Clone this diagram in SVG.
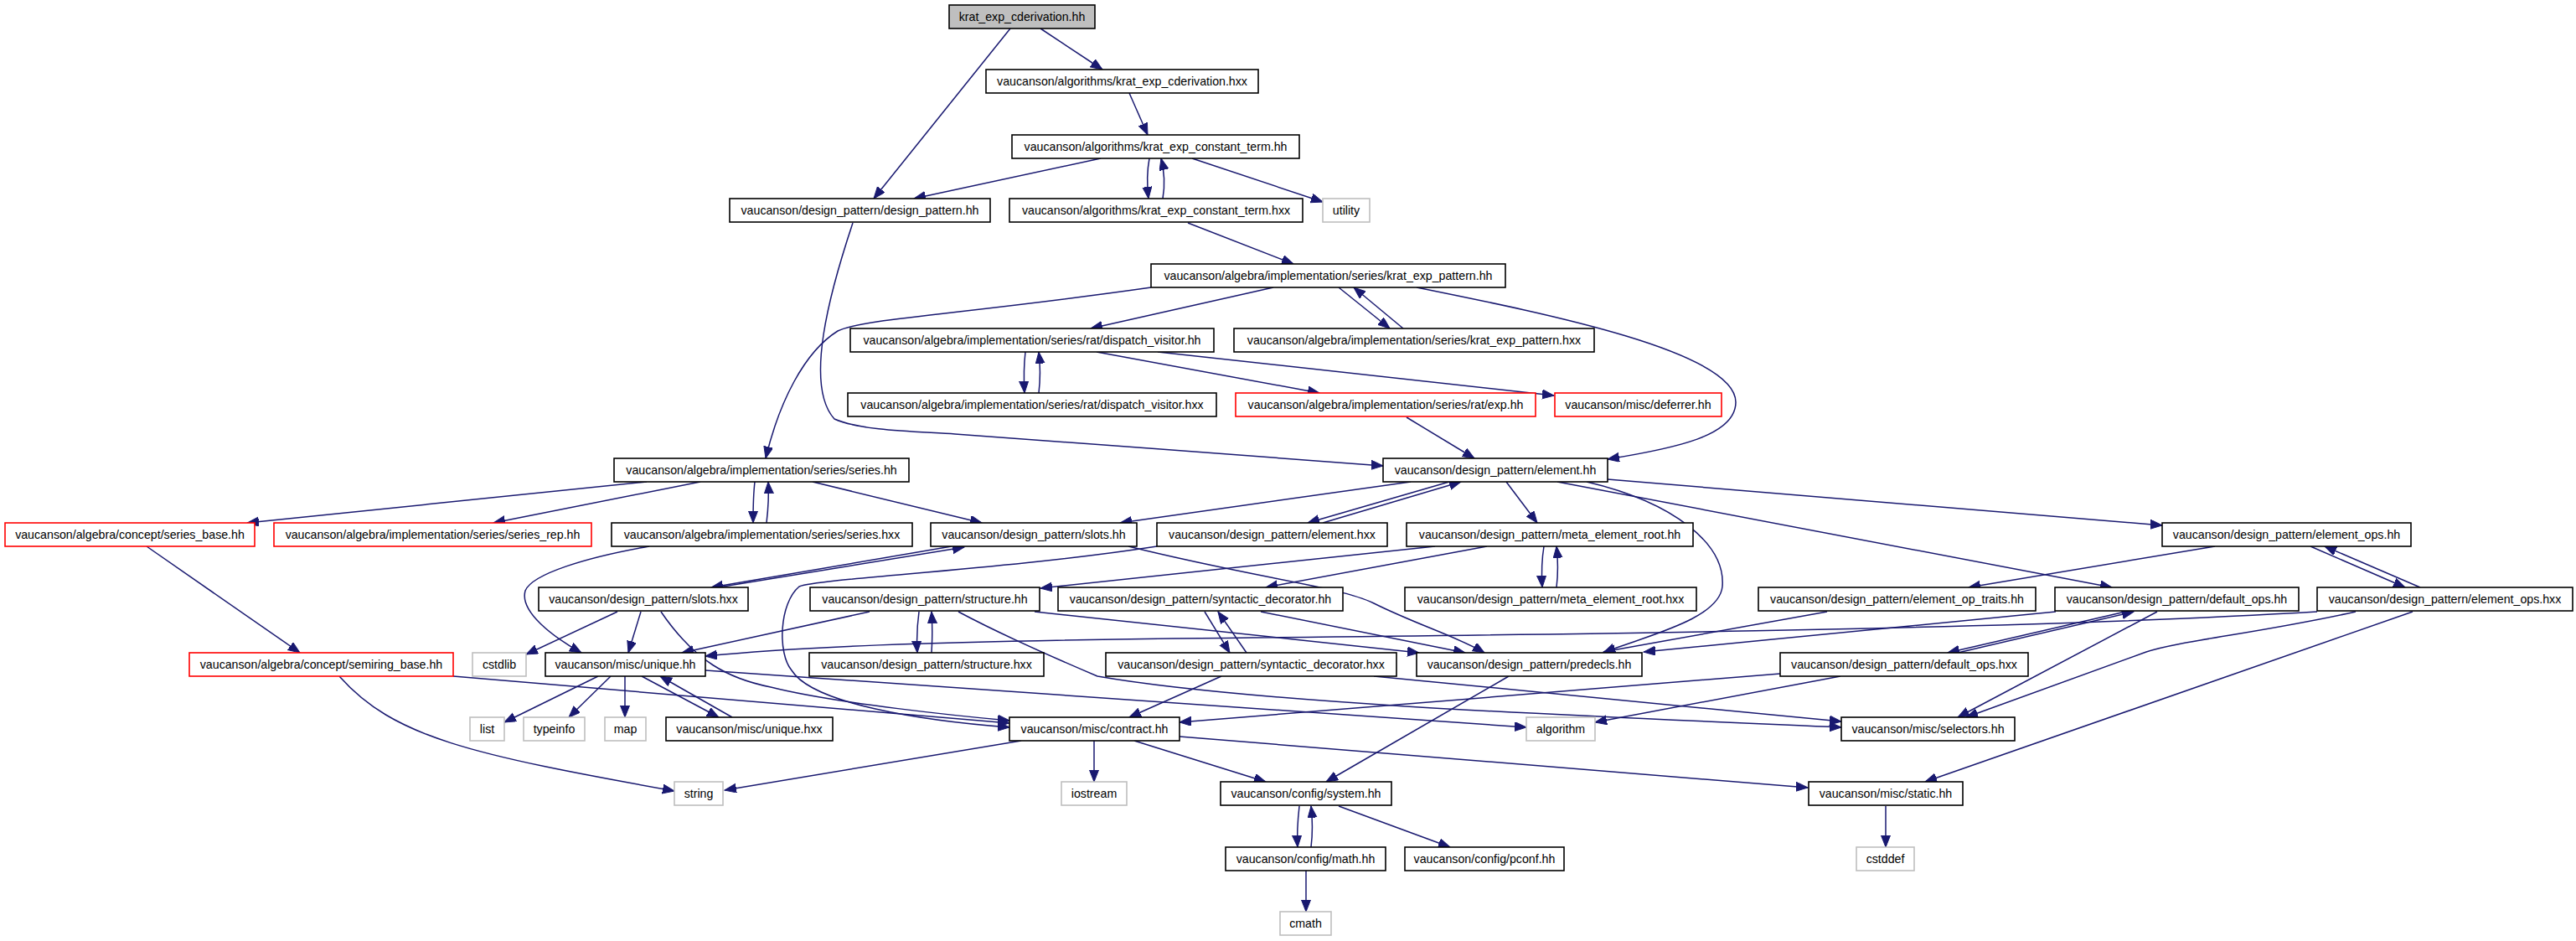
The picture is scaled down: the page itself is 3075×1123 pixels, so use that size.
<svg xmlns="http://www.w3.org/2000/svg" width="3075" height="1123" viewBox="0 0 3075 1123">
<style>
.node rect{fill:#fff;stroke:#000;stroke-width:1.6}
.red rect{stroke:#ff0000}
.gray rect{stroke:#bfbfbf}
.root rect{fill:#bfbfbf}
text{font-family:"Liberation Sans",Arial,sans-serif;font-size:14.2px;text-anchor:middle;fill:#000}
.edges path{fill:none;stroke:#191970;stroke-width:1.5;marker-end:url(#arr)}
</style>
<defs>
<marker id="arr" markerUnits="userSpaceOnUse" markerWidth="16" markerHeight="13" refX="14" refY="5.5" orient="auto"><path d="M0,0 L14,5.5 L0,11 z" fill="#191970" stroke="#191970" stroke-width="1"/></marker>
</defs>
<rect width="3075" height="1123" fill="#fff"/>
<g class="edges" id="edges">
<path d="M1242,34 L1316,83"/>
<path d="M1206,34 L1043,237"/>
<path d="M1348,111 L1370,161"/>
<path d="M1314,189 L1091,237"/>
<path d="M1372,189 C1369,205 1369,220 1371,237"/>
<path d="M1388,237 C1391,220 1390,205 1386,189"/>
<path d="M1423,189 L1579,241"/>
<path d="M1418,266 L1544,315"/>
<path d="M1018,266 C990,350 960,460 996,500 C1030,515 1100,515 1140,518 C1300,530 1500,544 1651,556"/>
<path d="M1374,343 C1150,375 1030,380 1000,395 C960,420 930,480 914,547"/>
<path d="M1520,343 L1302,392"/>
<path d="M1598,343 L1659,392"/>
<path d="M1675,392 L1616,343"/>
<path d="M1691,343 C1850,375 2072,420 2072,480 C2072,520 2000,535 1919,548"/>
<path d="M1224,420 C1222,437 1222,452 1223,469"/>
<path d="M1240,469 C1242,452 1242,437 1240,420"/>
<path d="M1309,420 L1575,469"/>
<path d="M1382,420 L1855,472"/>
<path d="M1679,498 L1760,547"/>
<path d="M772,575 L295,624"/>
<path d="M836,575 L589,624"/>
<path d="M901,575 C899,592 899,607 899,624"/>
<path d="M915,624 C917,607 918,592 917,575"/>
<path d="M970,575 L1172,624"/>
<path d="M1684,575 L1337,624"/>
<path d="M1730,575 L1561,624"/>
<path d="M1579,624 L1744,575"/>
<path d="M1798,575 L1835,624"/>
<path d="M1919,572 L2581,627"/>
<path d="M1859,575 L2521,701"/>
<path d="M1894,575 C2000,600 2060,650 2056,700 C2052,740 1960,760 1914,779"/>
<path d="M1843,652 C1840,670 1840,685 1841,701"/>
<path d="M1858,701 C1860,685 1860,670 1858,652"/>
<path d="M1713,652 L1242,702"/>
<path d="M1775,652 L1511,701"/>
<path d="M2644,652 L2350,701"/>
<path d="M2758,652 L2871,701"/>
<path d="M2889,701 L2775,652"/>
<path d="M1136,652 L849,701"/>
<path d="M857,701 L1151,653"/>
<path d="M1381,652 C1200,680 980,690 954,700 C930,720 928,780 945,800 C970,840 1100,860 1205,868"/>
<path d="M1347,652 C1500,690 1600,700 1640,720 C1690,745 1740,760 1772,779"/>
<path d="M775,652 C700,665 635,685 627,705 C620,730 660,760 694,779"/>
<path d="M737,730 L628,781"/>
<path d="M765,730 L750,779"/>
<path d="M789,730 C830,790 870,810 920,820 C1000,840 1150,855 1205,860"/>
<path d="M1038,730 L814,779"/>
<path d="M1097,730 C1095,745 1094,762 1095,779"/>
<path d="M1112,779 C1113,762 1113,745 1112,730"/>
<path d="M1235,730 L1694,779"/>
<path d="M1144,730 C1200,760 1270,790 1310,807 C1500,840 1900,855 2198,868"/>
<path d="M1438,730 L1468,779"/>
<path d="M1488,779 L1454,730"/>
<path d="M1505,730 L1749,779"/>
<path d="M1458,807 L1348,856"/>
<path d="M1640,807 L2198,861"/>
<path d="M2125,804 L1408,862"/>
<path d="M2197,807 L1904,862"/>
<path d="M2537,730 L2325,779"/>
<path d="M2337,779 L2547,730"/>
<path d="M2575,730 L2337,856"/>
<path d="M2812,730 C2700,755 2600,765 2562,778 L2347,856"/>
<path d="M2880,730 L2298,933"/>
<path d="M2454,730 L1962,778"/>
<path d="M2181,730 L1914,778"/>
<path d="M2766,730 C2400,752 1800,758 1400,762 C1100,766 950,772 842,783"/>
<path d="M842,800 L1822,868"/>
<path d="M1801,807 L1583,933"/>
<path d="M1306,884 L1306,933"/>
<path d="M1354,884 L1511,933"/>
<path d="M1408,879 L2158,940"/>
<path d="M1219,884 L865,943"/>
<path d="M405,807 C470,880 560,900 805,944"/>
<path d="M541,807 L1205,863"/>
<path d="M175,652 L358,779"/>
<path d="M714,807 L602,862"/>
<path d="M729,807 L679,856"/>
<path d="M746,807 L746,856"/>
<path d="M766,807 L858,856"/>
<path d="M874,856 L788,807"/>
<path d="M1551,962 C1549,980 1548,995 1549,1011"/>
<path d="M1565,1011 C1567,995 1567,980 1565,962"/>
<path d="M1598,962 L1731,1011"/>
<path d="M1559,1039 L1559,1088"/>
<path d="M2251,962 L2251,1011"/>
</g>
<g id="n0" class="node root"><rect x="1133" y="6" width="174" height="28"/><text x="1220" y="25">krat_exp_cderivation.hh</text></g>
<g id="n1" class="node"><rect x="1177" y="83" width="325" height="28"/><text x="1339.5" y="102">vaucanson/algorithms/krat_exp_cderivation.hxx</text></g>
<g id="n2" class="node"><rect x="1208" y="161" width="343" height="28"/><text x="1379.5" y="180">vaucanson/algorithms/krat_exp_constant_term.hh</text></g>
<g id="n3" class="node"><rect x="871" y="237" width="311" height="28"/><text x="1026.5" y="256">vaucanson/design_pattern/design_pattern.hh</text></g>
<g id="n4" class="node"><rect x="1205" y="237" width="350" height="28"/><text x="1380" y="256">vaucanson/algorithms/krat_exp_constant_term.hxx</text></g>
<g id="n5" class="node gray"><rect x="1579" y="237" width="56" height="28"/><text x="1607" y="256">utility</text></g>
<g id="n6" class="node"><rect x="1374" y="315" width="423" height="28"/><text x="1585.5" y="334">vaucanson/algebra/implementation/series/krat_exp_pattern.hh</text></g>
<g id="n7" class="node"><rect x="1015" y="392" width="434" height="28"/><text x="1232" y="411">vaucanson/algebra/implementation/series/rat/dispatch_visitor.hh</text></g>
<g id="n8" class="node"><rect x="1473" y="392" width="430" height="28"/><text x="1688" y="411">vaucanson/algebra/implementation/series/krat_exp_pattern.hxx</text></g>
<g id="n9" class="node"><rect x="1012" y="469" width="440" height="28"/><text x="1232" y="488">vaucanson/algebra/implementation/series/rat/dispatch_visitor.hxx</text></g>
<g id="n10" class="node red"><rect x="1475" y="469" width="358" height="28"/><text x="1654" y="488">vaucanson/algebra/implementation/series/rat/exp.hh</text></g>
<g id="n11" class="node red"><rect x="1856" y="469" width="199" height="28"/><text x="1955.5" y="488">vaucanson/misc/deferrer.hh</text></g>
<g id="n12" class="node"><rect x="733" y="547" width="352" height="28"/><text x="909" y="566">vaucanson/algebra/implementation/series/series.hh</text></g>
<g id="n13" class="node"><rect x="1651" y="547" width="268" height="28"/><text x="1785" y="566">vaucanson/design_pattern/element.hh</text></g>
<g id="n14" class="node red"><rect x="6" y="624" width="298" height="28"/><text x="155" y="643">vaucanson/algebra/concept/series_base.hh</text></g>
<g id="n15" class="node red"><rect x="327" y="624" width="379" height="28"/><text x="516.5" y="643">vaucanson/algebra/implementation/series/series_rep.hh</text></g>
<g id="n16" class="node"><rect x="730" y="624" width="359" height="28"/><text x="909.5" y="643">vaucanson/algebra/implementation/series/series.hxx</text></g>
<g id="n17" class="node"><rect x="1111" y="624" width="246" height="28"/><text x="1234" y="643">vaucanson/design_pattern/slots.hh</text></g>
<g id="n18" class="node"><rect x="1381" y="624" width="275" height="28"/><text x="1518.5" y="643">vaucanson/design_pattern/element.hxx</text></g>
<g id="n19" class="node"><rect x="1679" y="624" width="342" height="28"/><text x="1850" y="643">vaucanson/design_pattern/meta_element_root.hh</text></g>
<g id="n20" class="node"><rect x="2581" y="624" width="297" height="28"/><text x="2729.5" y="643">vaucanson/design_pattern/element_ops.hh</text></g>
<g id="n21" class="node"><rect x="643" y="701" width="250" height="28"/><text x="768" y="720">vaucanson/design_pattern/slots.hxx</text></g>
<g id="n22" class="node"><rect x="967" y="701" width="274" height="28"/><text x="1104" y="720">vaucanson/design_pattern/structure.hh</text></g>
<g id="n23" class="node"><rect x="1263" y="701" width="340" height="28"/><text x="1433" y="720">vaucanson/design_pattern/syntactic_decorator.hh</text></g>
<g id="n24" class="node"><rect x="1677" y="701" width="348" height="28"/><text x="1851" y="720">vaucanson/design_pattern/meta_element_root.hxx</text></g>
<g id="n25" class="node"><rect x="2099" y="701" width="331" height="28"/><text x="2264.5" y="720">vaucanson/design_pattern/element_op_traits.hh</text></g>
<g id="n26" class="node"><rect x="2453" y="701" width="291" height="28"/><text x="2598.5" y="720">vaucanson/design_pattern/default_ops.hh</text></g>
<g id="n27" class="node"><rect x="2766" y="701" width="305" height="28"/><text x="2918.5" y="720">vaucanson/design_pattern/element_ops.hxx</text></g>
<g id="n28" class="node red"><rect x="226" y="779" width="315" height="28"/><text x="383.5" y="798">vaucanson/algebra/concept/semiring_base.hh</text></g>
<g id="n29" class="node gray"><rect x="564" y="779" width="64" height="28"/><text x="596" y="798">cstdlib</text></g>
<g id="n30" class="node"><rect x="651" y="779" width="191" height="28"/><text x="746.5" y="798">vaucanson/misc/unique.hh</text></g>
<g id="n31" class="node"><rect x="966" y="779" width="280" height="28"/><text x="1106" y="798">vaucanson/design_pattern/structure.hxx</text></g>
<g id="n32" class="node"><rect x="1320" y="779" width="347" height="28"/><text x="1493.5" y="798">vaucanson/design_pattern/syntactic_decorator.hxx</text></g>
<g id="n33" class="node"><rect x="1691" y="779" width="269" height="28"/><text x="1825.5" y="798">vaucanson/design_pattern/predecls.hh</text></g>
<g id="n34" class="node"><rect x="2125" y="779" width="296" height="28"/><text x="2273" y="798">vaucanson/design_pattern/default_ops.hxx</text></g>
<g id="n35" class="node gray"><rect x="561" y="856" width="41" height="28"/><text x="581.5" y="875">list</text></g>
<g id="n36" class="node gray"><rect x="625" y="856" width="73" height="28"/><text x="661.5" y="875">typeinfo</text></g>
<g id="n37" class="node gray"><rect x="722" y="856" width="49" height="28"/><text x="746.5" y="875">map</text></g>
<g id="n38" class="node"><rect x="795" y="856" width="199" height="28"/><text x="894.5" y="875">vaucanson/misc/unique.hxx</text></g>
<g id="n39" class="node"><rect x="1205" y="856" width="203" height="28"/><text x="1306.5" y="875">vaucanson/misc/contract.hh</text></g>
<g id="n40" class="node gray"><rect x="1822" y="856" width="82" height="28"/><text x="1863" y="875">algorithm</text></g>
<g id="n41" class="node"><rect x="2198" y="856" width="207" height="28"/><text x="2301.5" y="875">vaucanson/misc/selectors.hh</text></g>
<g id="n42" class="node gray"><rect x="805" y="933" width="58" height="28"/><text x="834" y="952">string</text></g>
<g id="n43" class="node gray"><rect x="1267" y="933" width="78" height="28"/><text x="1306" y="952">iostream</text></g>
<g id="n44" class="node"><rect x="1457" y="933" width="204" height="28"/><text x="1559" y="952">vaucanson/config/system.hh</text></g>
<g id="n45" class="node"><rect x="2159" y="933" width="184" height="28"/><text x="2251" y="952">vaucanson/misc/static.hh</text></g>
<g id="n46" class="node"><rect x="1463" y="1011" width="191" height="28"/><text x="1558.5" y="1030">vaucanson/config/math.hh</text></g>
<g id="n47" class="node"><rect x="1677" y="1011" width="190" height="28"/><text x="1772" y="1030">vaucanson/config/pconf.hh</text></g>
<g id="n48" class="node gray"><rect x="2216" y="1011" width="69" height="28"/><text x="2250.5" y="1030">cstddef</text></g>
<g id="n49" class="node gray"><rect x="1528" y="1088" width="61" height="28"/><text x="1558.5" y="1107">cmath</text></g>
</svg>
